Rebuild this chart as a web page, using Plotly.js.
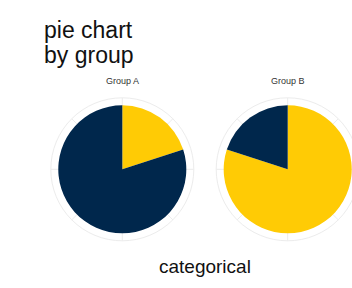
<!DOCTYPE html>
<html>
<head>
<meta charset="utf-8">
<script src="https://cdn.plot.ly/plotly-3.0.1.min.js"></script>
<style>
html,body{margin:0;padding:0;overflow:hidden;background:#fff;width:352px;height:288px;}
#chart{width:370px;height:288px;}
</style>
</head>
<body>
<div id="chart"></div>
<script>
// Data
const groups = ['Group A', 'Group B'];
const categories = ['category 1', 'category 2'];
const groupAValues = [20, 80];
const groupBValues = [80, 20];
const categoryColors = ['#FFCB05', '#00274C'];
const titleLines = ['pie chart', 'by group'];
const xTitle = 'categorical';

const W = 370, H = 288;
const valuesByGroup = [groupAValues, groupBValues];
const polarNames = ['polar', 'polar2'];

const traces = [];
valuesByGroup.forEach((vals, gi) => {
  const total = vals.reduce((a, b) => a + b, 0);
  let cum = 0;
  vals.forEach((v, ci) => {
    const start = cum / total * 360;
    const span = v / total * 360;
    cum += v;
    traces.push({
      type: 'barpolar',
      r: [1],
      theta: [start + span / 2],
      width: [span],
      name: categories[ci],
      marker: {color: categoryColors[ci], line: {width: 0}},
      subplot: polarNames[gi],
      showlegend: false,
      hoverinfo: 'skip'
    });
  });
});

function px2x(p){ return p / W; }
function px2y(p){ return 1 - p / H; }

const R = 71.5;
const centers = [[122.3, 169.3], [287.7, 169.3]];

function polarLayout(c){
  return {
    domain: {
      x: [px2x(c[0] - R), px2x(c[0] + R)],
      y: [px2y(c[1] + R), px2y(c[1] - R)]
    },
    bgcolor: 'rgba(0,0,0,0)',
    bargap: 0,
    hole: 0,
    radialaxis: {
      range: [0, 1.117], showgrid: false, showline: false,
      showticklabels: false, ticks: '', layer: 'below traces'
    },
    angularaxis: {
      rotation: 90, direction: 'clockwise',
      tickmode: 'linear', tick0: 0, dtick: 45,
      showticklabels: false, ticks: '',
      showgrid: true, gridcolor: '#ececec', gridwidth: 1,
      showline: true, linecolor: '#ececec', linewidth: 1,
      layer: 'below traces'
    }
  };
}

const font = 'Liberation Sans, Arial, sans-serif';
const annotations = [];
titleLines.forEach((t, i) => {
  annotations.push({text: t, xref: 'paper', yref: 'paper', x: px2x(42), y: px2y(30 + i * 25),
    xanchor: 'left', yanchor: 'middle', align: 'left', showarrow: false,
    font: {family: font, size: 23, color: '#111'}});
});
annotations.push({text: xTitle, xref: 'paper', yref: 'paper', x: px2x(204.5), y: px2y(266),
  xanchor: 'center', yanchor: 'middle', showarrow: false,
  font: {family: font, size: 19, color: '#111'}});
groups.forEach((g, i) => {
  annotations.push({text: g, xref: 'paper', yref: 'paper',
    x: px2x(centers[i][0]), y: px2y(81), xanchor: 'center', yanchor: 'middle',
    showarrow: false, font: {family: font, size: 9, color: '#333'}});
});

const layout = {
  width: W, height: H,
  margin: {l: 0, r: 0, t: 0, b: 0},
  paper_bgcolor: '#fff',
  showlegend: false,
  polar: polarLayout(centers[0]),
  polar2: polarLayout(centers[1]),
  annotations: annotations
};

Plotly.newPlot('chart', traces, layout, {displayModeBar: false, staticPlot: true});
</script>
</body>
</html>
